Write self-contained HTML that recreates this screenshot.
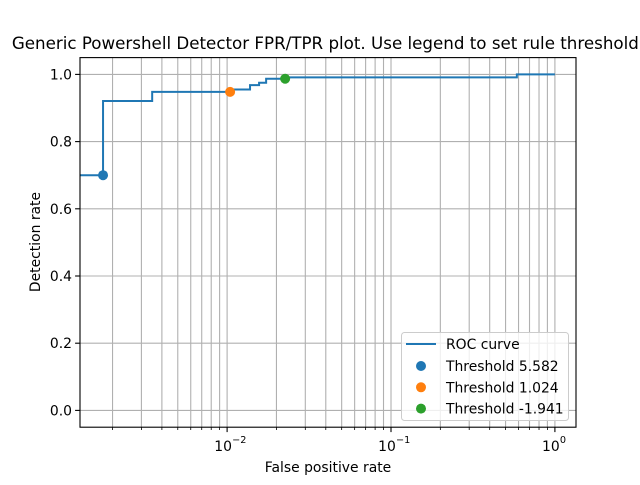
<!DOCTYPE html>
<html><head><meta charset="utf-8"><style>
body{margin:0;background:#fff}
svg text{font-family:"DejaVu Sans","Liberation Sans",sans-serif;fill:#000}
</style></head><body>
<svg id="c" width="640" height="480" xmlns="http://www.w3.org/2000/svg"></svg>
<script>
const fprValues=[0.0012,0.00175,0.00349,0.01043,0.0104,0.0138,0.01567,0.0173,0.0226,0.586,1.0];
const tprValues=[0.70,0.921,0.948,0.948,0.955,0.968,0.975,0.987,0.991,1.0,1.0];
const thresholdLabels=["Threshold 5.582","Threshold 1.024","Threshold -1.941"];
const thresholdFpr=[0.00175,0.01043,0.0226];
const thresholdTpr=[0.70,0.948,0.987];
const thresholdColors=["#1f77b4","#ff7f0e","#2ca02c"];
const yTicks=[0,0.2,0.4,0.6,0.8,1.0];
const yTickLabels=["0.0","0.2","0.4","0.6","0.8","1.0"];
const xMajorExp=[-2,-1,0];

const L=80,R=576,T=57.6,B=427.2;
const xmin=Math.log10(0.001266),xmax=Math.log10(1.345);
const X=v=>L+(Math.log10(v)-xmin)/(xmax-xmin)*(R-L);
const Y=v=>B-(v+0.05)/1.1*(B-T);
const svg=document.getElementById('c');
const NS='http://www.w3.org/2000/svg';
function mk(tag,attrs,parent){const e=document.createElementNS(NS,tag);for(const k in attrs)e.setAttribute(k,attrs[k]);(parent||svg).appendChild(e);return e;}

const grid=mk('g',{});


for(let e=-3;e<=0;e++){for(let m=1;m<=9;m++){const v=m*Math.pow(10,e);if(v<0.001266||v>1.345)continue;const x=X(v);
 mk('line',{x1:x,x2:x,y1:T,y2:B,stroke:'#b0b0b0','stroke-width':1.1},grid);
 mk('line',{x1:x,x2:x,y1:B,y2:B+(m==1?4.9:2.8),stroke:'#000','stroke-width':m==1?1.1:0.8});}}
yTicks.forEach((v,i)=>{const y=Y(v);
 mk('line',{x1:L,x2:R,y1:y,y2:y,stroke:'#b0b0b0','stroke-width':1.1},grid);
 mk('line',{x1:L-4.9,x2:L,y1:y,y2:y,stroke:'#000','stroke-width':1.1});
 const t=mk('text',{x:L-8,y:y+5,'text-anchor':'end','font-size':13.9});t.textContent=yTickLabels[i];
 
 });
xMajorExp.forEach(e=>{const x=X(Math.pow(10,e));
 const t=mk('text',{x:x-4,y:B+24,'text-anchor':'middle','font-size':13.9});t.textContent='10';
 
 
 const s=mk('text',{x:x+5,y:B+16,'text-anchor':'start','font-size':9.7});s.textContent=String(e).replace('-','\u2212');});

const cp=mk('clipPath',{id:'cl'});mk('rect',{x:L,y:T,width:R-L,height:B-T},cp);
let d='';fprValues.forEach((v,i)=>{const x=X(v),y=Y(tprValues[i]);
 if(i==0)d+='M'+x+' '+y;else d+=' H'+x+' V'+y;});
const line=mk('path',{d:d,fill:'none',stroke:'#1f77b4','stroke-width':2,'clip-path':'url(#cl)'});


thresholdFpr.forEach((v,i)=>{const c=mk('circle',{cx:X(v),cy:Y(thresholdTpr[i]),r:5,fill:thresholdColors[i]});
 
 });

mk('rect',{x:L,y:T,width:R-L,height:B-T,fill:'none',stroke:'#000','stroke-width':1.1});

const title=mk('text',{x:328,y:49,'text-anchor':'middle','font-size':16.7});
title.textContent='Generic Powershell Detector FPR/TPR plot. Use legend to set rule threshold.';


const xl=mk('text',{x:328,y:472,'text-anchor':'middle','font-size':13.9});xl.textContent='False positive rate';


const yl=mk('text',{x:0,y:0,'text-anchor':'middle','font-size':13.9,transform:'translate(40,242) rotate(-90)'});yl.textContent='Detection rate';



const lg=mk('g',{});


mk('rect',{x:401.5,y:332.5,width:167,height:88,rx:3,fill:'#fff','fill-opacity':0.8,stroke:'#ccc','stroke-width':1},lg);
mk('line',{x1:406,x2:436,y1:344,y2:344,stroke:'#1f77b4','stroke-width':2},lg);
const t0=mk('text',{x:446,y:349,'font-size':13.9},lg);t0.textContent='ROC curve';


thresholdLabels.forEach((s,i)=>{const y=366+i*21.3;
 mk('circle',{cx:421,cy:y,r:5,fill:thresholdColors[i]},lg);
 const t=mk('text',{x:446,y:y+5,'font-size':13.9},lg);t.textContent=s;
 
 });
</script>
</body></html>
